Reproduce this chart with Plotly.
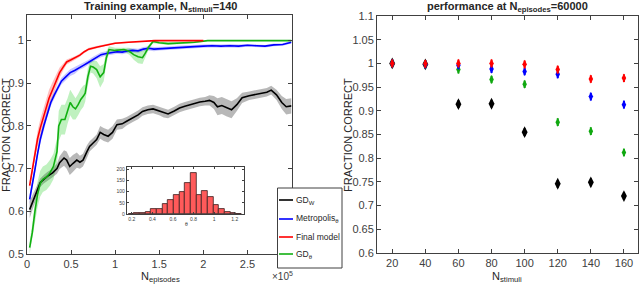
import plotly.graph_objects as go

W, H = 640, 285

# ---------------- Left panel data: training curves (N_stimuli = 140) -------------
gdw_x = [3000, 6000, 9000, 12000, 15000, 19000, 23000, 29000, 34000, 37000,
         42000, 45000, 48500, 52000, 56500, 60000, 63500, 68000, 71000, 75000,
         79000, 83000, 87000, 92000, 97000, 102000, 108000, 113000, 120000, 126000,
         131000, 137000, 143000, 150000, 155000, 160000, 167000, 173000, 179000, 185000,
         190000, 196000, 202000, 207000, 212000, 216000, 221000, 226000, 232000, 238000,
         244000, 252000, 258000, 264000, 272000, 277000, 283000, 289000, 294000, 300000]
gdw_y = [0.604, 0.62, 0.635, 0.655, 0.667, 0.675, 0.682, 0.69, 0.70, 0.714,
         0.725, 0.72, 0.705, 0.712, 0.72, 0.715, 0.72, 0.74, 0.752, 0.76,
         0.768, 0.785, 0.78, 0.776, 0.785, 0.803, 0.805, 0.811, 0.819, 0.826,
         0.834, 0.838, 0.84, 0.835, 0.83, 0.828, 0.835, 0.842, 0.846, 0.85,
         0.853, 0.856, 0.858, 0.86, 0.855, 0.845, 0.848, 0.843, 0.838, 0.85,
         0.866, 0.871, 0.873, 0.875, 0.879, 0.884, 0.873, 0.855, 0.845, 0.847]
gdw_e = [0.02, 0.018, 0.015, 0.012, 0.01, 0.01, 0.01, 0.01, 0.012, 0.015,
         0.018, 0.02, 0.02, 0.02, 0.018, 0.015, 0.015, 0.015, 0.012, 0.012,
         0.012, 0.015, 0.015, 0.015, 0.015, 0.012, 0.012, 0.01, 0.01, 0.01,
         0.01, 0.01, 0.01, 0.01, 0.01, 0.01, 0.01, 0.01, 0.01, 0.01,
         0.01, 0.01, 0.01, 0.012, 0.015, 0.02, 0.02, 0.02, 0.02, 0.015,
         0.012, 0.01, 0.01, 0.01, 0.01, 0.01, 0.012, 0.015, 0.018, 0.018]

metro_x = [3000, 6000, 9000, 12000, 15000, 19000, 23000, 27000, 31000, 35000,
           39000, 44000, 49000, 54000, 59000, 64000, 69000, 74000, 79000, 84000,
           90000, 96000, 102000, 108000, 114000, 120000, 126000, 132000, 138000, 144000,
           150000, 160000, 170000, 180000, 190000, 200000, 210000, 220000, 230000, 240000,
           250000, 260000, 270000, 280000, 290000, 300000]
metro_y = [0.628, 0.66, 0.698, 0.735, 0.768, 0.80, 0.83, 0.855, 0.873, 0.89,
           0.905, 0.915, 0.925, 0.93, 0.937, 0.942, 0.948, 0.955, 0.962, 0.967,
           0.97, 0.972, 0.974, 0.973, 0.976, 0.977, 0.976, 0.98, 0.982, 0.98,
           0.981, 0.982, 0.984, 0.985, 0.986, 0.987, 0.988, 0.987, 0.988, 0.987,
           0.989, 0.988, 0.987, 0.99, 0.991, 0.996]
metro_e = [0.012, 0.012, 0.012, 0.01, 0.01, 0.01, 0.01, 0.008, 0.008, 0.008,
           0.008, 0.008, 0.008, 0.008, 0.006, 0.006, 0.006, 0.006, 0.006, 0.006,
           0.005, 0.005, 0.005, 0.005, 0.005, 0.005, 0.005, 0.005, 0.005, 0.005,
           0.004, 0.004, 0.004, 0.004, 0.004, 0.004, 0.004, 0.004, 0.004, 0.004,
           0.003, 0.003, 0.003, 0.003, 0.003, 0.003]

final_x = [3000, 6000, 9000, 12000, 15000, 18000, 21000, 25000, 29000, 33000,
           37000, 41000, 45000, 50000, 55000, 60000, 65000, 70000, 80000, 90000,
           100000, 115000, 130000, 145000, 160000, 180000, 200000]
final_y = [0.66, 0.70, 0.74, 0.77, 0.795, 0.815, 0.84, 0.865, 0.885, 0.905,
           0.925, 0.938, 0.95, 0.955, 0.96, 0.966, 0.974, 0.98, 0.985, 0.99,
           0.994, 0.996, 0.998, 1.0, 1.0, 1.0, 1.0]
final_e = [0.01, 0.012, 0.015, 0.018, 0.02, 0.022, 0.022, 0.02, 0.018, 0.015,
           0.012, 0.008, 0.006, 0.005, 0.004, 0.004, 0.003, 0.003, 0.003, 0.002,
           0.002, 0.002, 0.001, 0.001, 0.001, 0.001, 0.001]

gdt_x = [3000, 6000, 9000, 12000, 15000, 18000, 22000, 26000, 30000, 34000,
         36000, 39000, 43000, 46000, 49000, 52000, 55000, 58000, 61000, 64000,
         66000, 69000, 72000, 75000, 79000, 83000, 87000, 90000, 93000, 100000,
         110000, 116000, 121000, 126000, 131000, 134000, 138000, 143000, 150000, 160000,
         175000, 190000, 205000, 240000, 270000, 300000]
gdt_y = [0.515, 0.55, 0.60, 0.64, 0.665, 0.675, 0.68, 0.69, 0.705, 0.74,
         0.80, 0.815, 0.815, 0.835, 0.855, 0.845, 0.84, 0.85, 0.862, 0.87,
         0.877, 0.915, 0.94, 0.938, 0.932, 0.915, 0.925, 0.96, 0.979, 0.977,
         0.979, 0.975, 0.967, 0.962, 0.96, 0.97, 0.985, 0.998, 0.995, 0.993,
         0.994, 0.996, 1.0, 1.0, 1.0, 1.0]
gdt_e = [0.015, 0.02, 0.025, 0.03, 0.03, 0.03, 0.03, 0.03, 0.03, 0.03,
         0.035, 0.035, 0.035, 0.03, 0.03, 0.03, 0.025, 0.025, 0.025, 0.025,
         0.02, 0.02, 0.015, 0.015, 0.02, 0.025, 0.02, 0.015, 0.008, 0.006,
         0.005, 0.008, 0.012, 0.015, 0.015, 0.01, 0.006, 0.004, 0.003, 0.003,
         0.002, 0.002, 0.001, 0.001, 0.001, 0.001]

left_xticks = [0, 50000, 100000, 150000, 200000, 250000, 300000]
left_xticklabels = ["0", "0.5", "1", "1.5", "2", "2.5", "3"]
left_yticks = [0.5, 0.6, 0.7, 0.8, 0.9, 1.0]
left_yticklabels = ["0.5", "0.6", "0.7", "0.8", "0.9", "1"]

# ---------------- Inset histogram of theta -------------
theta_centers = [0.195, 0.25, 0.305, 0.36, 0.415, 0.47, 0.525, 0.58, 0.635, 0.69,
                 0.745, 0.80, 0.855, 0.91, 0.965, 1.02, 1.075, 1.13, 1.185, 1.24]
theta_counts = [2, 3, 5, 10, 22, 22, 45, 62, 85, 97,
                137, 185, 84, 103, 75, 42, 22, 8, 4, 2]
hist_xticks = [0.2, 0.4, 0.6, 0.8, 1.0, 1.2]
hist_xticklabels = ["0.2", "0.4", "0.6", "0.8", "1", "1.2"]
hist_yticks = [0, 50, 100, 150, 200]

# ---------------- Right panel data: performance at N_episodes = 60000 -------------
n_stimuli = [20, 40, 60, 80, 100, 120, 140, 160]
perf_gdw = [1.0, 0.998, 0.914, 0.915, 0.855, 0.746, 0.749, 0.720]
perf_metro = [1.0, 0.998, 0.996, 0.988, 0.983, 0.977, 0.930, 0.913]
perf_final = [1.0, 0.999, 1.0, 1.0, 0.998, 0.987, 0.967, 0.969]
perf_gdt = [1.0, 0.998, 0.987, 0.966, 0.956, 0.876, 0.857, 0.812]
right_xticks = [20, 40, 60, 80, 100, 120, 140, 160]
right_yticks = [0.6, 0.65, 0.7, 0.75, 0.8, 0.85, 0.9, 0.95, 1.0, 1.05, 1.1]
right_yticklabels = ["0.6", "0.65", "0.7", "0.75", "0.8", "0.85", "0.9", "0.95", "1", "1.05", "1.1"]

legend_labels = ["GD<sub>W</sub>", "Metropolis<sub>θ</sub>", "Final model", "GD<sub>θ</sub>"]

# ---------------- styling -------------
FONT = "Liberation Sans, Arial, Helvetica, sans-serif"
AX = "#404040"
TICKC = "#404040"
C_BLACK, C_BLUE, C_RED, C_GREEN = "#000000", "#0000ff", "#ff0000", "#12b012"
B_BLACK, B_BLUE, B_RED, B_GREEN = ("rgba(0,0,0,0.28)", "rgba(0,0,255,0.22)",
                                   "rgba(255,0,0,0.25)", "rgba(0,200,0,0.25)")


def px_x(p):
    return p / W


def px_y(p):
    return 1 - p / H


fig = go.Figure()


def band(x, y, e, col):
    up = [a + b for a, b in zip(y, e)]
    lo = [a - b for a, b in zip(y, e)]
    fig.add_trace(go.Scatter(x=x + x[::-1], y=up + lo[::-1], fill="toself",
                             fillcolor=col, line=dict(width=0), mode="lines",
                             hoverinfo="skip", showlegend=False,
                             xaxis="x", yaxis="y"))


band(gdw_x, gdw_y, gdw_e, B_BLACK)
band(metro_x, metro_y, metro_e, B_BLUE)
band(final_x, final_y, final_e, B_RED)
band(gdt_x, gdt_y, gdt_e, B_GREEN)
for x, y, c in [(gdw_x, gdw_y, C_BLACK), (metro_x, metro_y, C_BLUE),
                (gdt_x, gdt_y, C_GREEN), (final_x, final_y, C_RED)]:
    fig.add_trace(go.Scatter(x=x, y=y, mode="lines", line=dict(color=c, width=1.6),
                             showlegend=False, xaxis="x", yaxis="y"))

# inset histogram
fig.add_trace(go.Bar(x=theta_centers, y=theta_counts, width=0.055,
                     marker=dict(color="#ff5a5a", line=dict(color="#3a2020", width=0.8)),
                     showlegend=False, xaxis="x3", yaxis="y3"))

# right panel markers
for vals, c, s in [(perf_gdw, C_BLACK, 8.5), (perf_gdt, "#10a810", 6.5),
                   (perf_metro, C_BLUE, 6.5), (perf_final, C_RED, 6.5)]:
    fig.add_trace(go.Scatter(x=n_stimuli, y=vals, mode="markers",
                             marker=dict(symbol="diamond-tall", size=s, color=c,
                                         line=dict(width=0)),
                             error_y=dict(type="constant", value=0.0065, color=c,
                                          thickness=1.5, width=1),
                             showlegend=False, xaxis="x2", yaxis="y2"))

axis_common = dict(showline=True, linecolor=AX, linewidth=1, mirror="ticks",
                   ticks="inside", ticklen=4, tickcolor=AX, showgrid=False,
                   zeroline=False, automargin=False,
                   tickfont=dict(family=FONT, size=11, color=TICKC))
inset_common = dict(showline=True, linecolor=AX, linewidth=0.8, mirror="ticks",
                    ticks="inside", ticklen=2, tickcolor=AX, showgrid=False,
                    zeroline=False, automargin=False,
                    tickfont=dict(family=FONT, size=5, color=TICKC))

fig.update_layout(
    width=W, height=H, margin=dict(l=0, r=0, t=0, b=0, autoexpand=False),
    paper_bgcolor="white", plot_bgcolor="white", bargap=0,
    font=dict(family=FONT, color="#262626"),
    xaxis=dict(domain=[px_x(27), px_x(291.5)], range=[0, 300000],
               tickvals=left_xticks, ticktext=left_xticklabels, **axis_common),
    yaxis=dict(domain=[px_y(254), px_y(15)], range=[0.5, 1.06],
               tickvals=left_yticks, ticktext=left_yticklabels, **axis_common),
    xaxis2=dict(domain=[px_x(377), px_x(638)], range=[10.8, 168.5], anchor="y2",
                tickvals=right_xticks, **axis_common),
    yaxis2=dict(domain=[px_y(253), px_y(16)], range=[0.6, 1.1], anchor="x2",
                tickvals=right_yticks, ticktext=right_yticklabels, **axis_common),
    xaxis3=dict(domain=[px_x(126.7), px_x(244)], range=[0.15, 1.29], anchor="y3",
                tickvals=hist_xticks, ticktext=hist_xticklabels, **inset_common),
    yaxis3=dict(domain=[px_y(214), px_y(167)], range=[0, 210], anchor="x3",
                tickvals=hist_yticks, **inset_common),
)

ann = []
shapes = []


def text(x, y, s, size=11, bold=False, xanchor="center", yanchor="middle", angle=0,
         color="#262626"):
    ann.append(dict(x=px_x(x), y=px_y(y), xref="paper", yref="paper",
                    text=("<b>%s</b>" % s) if bold else s, showarrow=False,
                    xanchor=xanchor, yanchor=yanchor, textangle=angle,
                    font=dict(family=FONT, size=size, color=color)))


text(160, 7, "Training example, N<sub>stimuli</sub>=140", size=11, bold=True)
text(507, 7, "performance at N<sub>episodes</sub>=60000", size=11, bold=True)
text(6, 135, "FRACTION CORRECT", size=11, angle=-90)
text(348, 135, "FRACTION CORRECT", size=11, angle=-90)
text(160, 277, "N<sub>episodes</sub>", size=11)
text(507, 277, "N<sub>stimuli</sub>", size=11)
text(282, 276, "×10<sup>5</sup>", size=10, color="#404040")
text(186, 224, "θ", size=5)

# legend (drawn box)
lx0, lx1, ly0, ly1 = 277.5, 342, 188, 268
shapes.append(dict(type="rect", xref="paper", yref="paper",
                   x0=px_x(lx0), x1=px_x(lx1), y0=px_y(ly1), y1=px_y(ly0),
                   fillcolor="white", line=dict(color=AX, width=1), layer="above"))
for lab, c, yy in zip(legend_labels, [C_BLACK, C_BLUE, C_RED, C_GREEN], [200, 219, 237, 254]):
    shapes.append(dict(type="line", xref="paper", yref="paper",
                       x0=px_x(279), x1=px_x(293), y0=px_y(yy), y1=px_y(yy),
                       line=dict(color=c, width=1.6), layer="above"))
    text(294, yy, lab, size=8.5, xanchor="left")

fig.update_layout(annotations=ann, shapes=shapes)
fig.write_html("out.html", config={"displayModeBar": False},
               post_script="document.body.style.margin='0';document.body.style.padding='0';")
